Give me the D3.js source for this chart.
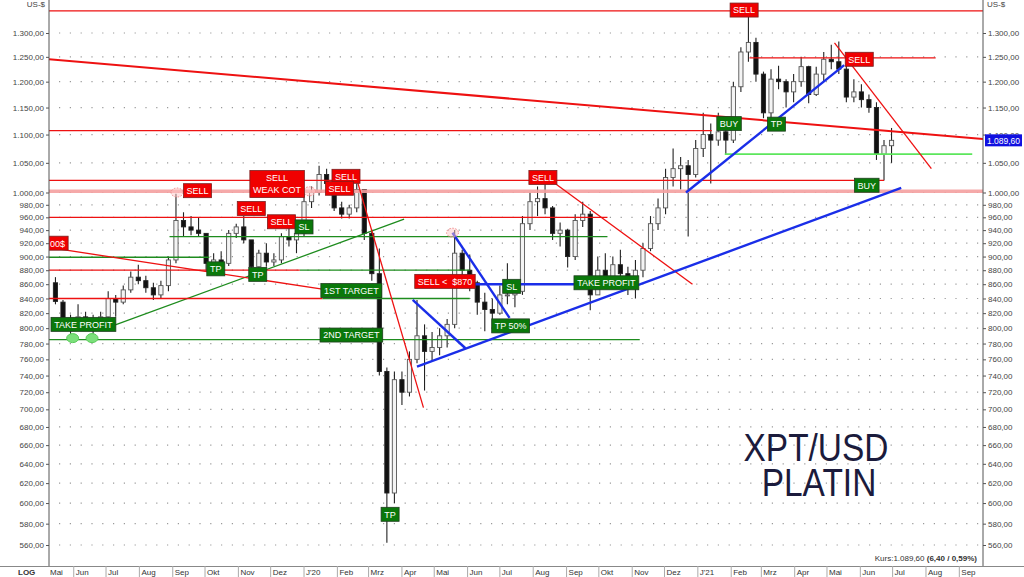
<!DOCTYPE html>
<html><head><meta charset="utf-8">
<script src="https://cdn.jsdelivr.net/npm/d3@7/dist/d3.min.js"></script>
<style>html,body{margin:0;padding:0;background:#fff}svg{display:block}</style>
</head><body>
<svg id="chart" width="1024" height="577" font-family="'Liberation Sans', Arial, sans-serif"></svg>
<script>
// ---------------- DATA ----------------
// weekly OHLC (Wednesday of each week), XPT/USD
const firstWeek = "2019-05-15";
const lastWeek = "2021-06-30";
const open  = [862,835,812,805,815,808,812,815,840,835,852,870,865,855,845,858,895,955,945,940,935,890,895,890,935,945,925,885,905,892,895,930,925,935,985,1000,1030,1015,975,965,975,1005,935,875,745,610,735,720,760,790,770,775,790,805,905,880,862,835,825,820,845,845,850,950,985,990,975,935,940,900,955,965,845,880,870,888,875,858,880,912,950,975,1025,1040,1045,1030,1075,1100,1090,1105,1090,1190,1260,1280,1215,1140,1205,1200,1180,1200,1230,1175,1215,1245,1240,1225,1170,1180,1165,1150,1065,1080];
const high  = [870,838,818,832,822,818,822,850,845,858,878,888,872,862,865,900,998,968,962,960,935,905,908,940,950,962,925,910,920,905,935,945,940,1000,1010,1045,1040,1020,985,980,1015,1005,940,912,750,745,745,770,838,805,795,800,812,940,910,903,865,848,840,858,890,866,962,1000,1010,1016,978,952,942,965,985,970,900,905,900,910,885,895,920,962,990,1040,1075,1060,1055,1090,1140,1120,1140,1120,1200,1270,1338,1290,1220,1225,1232,1205,1215,1250,1232,1230,1260,1275,1282,1235,1205,1195,1175,1160,1090,1112];
const low   = [832,805,788,800,803,789,804,812,815,832,848,860,848,838,840,850,890,930,932,930,878,882,885,886,928,920,875,880,885,886,890,915,905,930,975,995,1005,970,958,958,968,925,865,740,562,600,705,715,755,722,758,765,775,800,868,850,818,796,812,818,832,828,845,940,962,965,925,915,884,895,945,824,845,865,855,862,845,840,870,908,940,965,1010,1005,930,1025,1060,1015,1080,1065,1085,1180,1240,1200,1130,1125,1185,1150,1160,1190,1158,1172,1200,1225,1215,1160,1160,1150,1140,1055,1020,1050];
const close = [836,812,805,815,808,812,815,840,835,852,870,865,855,845,858,895,955,945,940,935,890,895,890,935,945,925,885,905,892,895,930,925,935,985,1000,1030,1015,975,965,975,1005,935,875,745,610,735,720,760,790,770,775,790,805,905,880,862,835,825,820,845,845,850,950,985,990,975,935,940,900,955,965,845,880,870,888,875,858,880,912,950,975,1025,1040,1045,1030,1075,1100,1090,1105,1090,1190,1260,1280,1215,1140,1205,1200,1180,1200,1230,1175,1215,1245,1240,1225,1170,1180,1165,1150,1065,1080,1089.6];
const lastPrice = 1089.6;
const change = "6,40 / 0,59%";

const yTicks = [1300,1250,1200,1150,1100,1050,1000,980,960,940,920,900,880,860,840,820,800,780,760,740,720,700,680,660,640,620,600,580,560];
const monthNames = ["J","Feb","Mrz","Apr","Mai","Jun","Jul","Aug","Sep","Okt","Nov","Dez"];

// annotation lines: [date1, price1, date2, price2]
const redLines = [
  ["2019-05-09",1348,"2021-09-23",1348],
  ["2019-05-09",1107,"2021-01-14",1107],
  ["2019-05-09",1020,"2021-06-23",1020],
  ["2019-05-09",960,"2020-10-09",960],
  ["2019-05-09",880,"2019-12-28",880],
  ["2019-05-09",840,"2020-01-18",840],
  ["2019-05-19",911,"2020-01-18",853],
  ["2020-02-20",1016,"2020-04-21",702],
  ["2020-08-22",1014,"2020-12-27",860],
  ["2021-05-08",1279,"2021-08-06",1040],
  ["2021-02-18",1248,"2021-08-10",1248]
];
const redSlope = [["2019-05-09",1245,"2021-09-23",1092]];
const pinkLines = [["2019-05-09",1002,"2021-09-23",1002]];
const greenLines = [
  ["2019-05-09",899,"2019-10-05",899],
  ["2019-08-29",930,"2020-10-09",930],
  ["2019-12-28",880,"2020-06-03",880],
  ["2020-01-18",840,"2020-06-03",840],
  ["2019-05-09",785,"2020-11-08",785],
  ["2019-07-09",804,"2020-04-03",957]
];
const limeLines = [["2021-01-26",1065,"2021-09-13",1065]];
const blueLines = [
  ["2020-04-15",751,"2021-07-09",1007.5],
  ["2020-04-11",838,"2020-05-30",774],
  ["2020-05-18",936,"2020-07-10",813.6],
  ["2020-06-03",860,"2020-10-02",860],
  ["2020-12-21",1000,"2021-05-17",1233]
];
// labels: [text, date, price, kind]
const labels = [
  ["00$","2019-05-17",920,"sell"],
  ["SELL","2021-02-13",1350,"sell"],
  ["SELL","2021-05-31",1245,"sell"],
  ["SELL","2019-09-24",1003,"sell"],
  ["SELL\nWEAK COT","2019-12-07",1014,"sell"],
  ["SELL","2019-11-13",974,"sell"],
  ["SELL","2019-12-11",953,"sell"],
  ["SELL","2020-02-09",1027,"sell"],
  ["SELL","2020-02-03",1007,"sell"],
  ["SELL","2020-08-10",1025,"sell"],
  ["SELL <  $870","2020-05-11",864,"sell"],
  ["TAKE PROFIT","2019-06-10",805,"buy"],
  ["TP","2019-10-11",882,"buy"],
  ["TP","2019-11-19",874,"buy"],
  ["SL","2020-01-01",945,"buy"],
  ["1ST TARGET","2020-02-14",851,"buy"],
  ["2ND TARGET","2020-02-14",791,"buy"],
  ["TP","2020-03-21",589,"buy"],
  ["SL","2020-07-12",857,"buy"],
  ["TP 50%","2020-07-11",803,"buy"],
  ["TAKE PROFIT","2020-10-08",862,"buy"],
  ["BUY","2021-01-30",1120,"buy"],
  ["TP","2021-03-15",1119,"buy"],
  ["BUY","2021-06-07",1012,"buy"]
];
// marker circles: [date, price, kind]
const marks = [
  ["2019-09-05",1000,"pink"],
  ["2020-01-06",1002,"pink"],
  ["2020-05-18",936,"pink"],
  ["2019-05-31",787,"green"],
  ["2019-06-18",787,"green"]
];

// ---------------- CHART ----------------
const parse = d3.timeParse("%Y-%m-%d");
const svg = d3.select("#chart");
const L = 49, R = 983, T = 0, B = 566;
const x = d3.scaleTime().domain([parse("2019-05-09"), parse("2021-09-23")]).range([L, R]);
const y = d3.scaleLog().domain([560, 1300]).range([545, 33]);
const loc = d3.formatLocale({decimal: ",", thousands: ".", grouping: [3], currency: ["", ""]});
const fmt = loc.format(",.2f");

svg.append("defs").append("clipPath").attr("id", "plot")
  .append("rect").attr("x", L).attr("y", T).attr("width", R - L).attr("height", B - T);

// dotted grid
svg.append("g").selectAll("line").data(yTicks).join("line")
  .attr("x1", L + 10).attr("x2", R).attr("y1", d => y(d)).attr("y2", d => y(d))
  .attr("stroke", "#9a9a9a").attr("stroke-width", 1.2).attr("stroke-dasharray", "1.2,9.6");

const plot = svg.append("g").attr("clip-path", "url(#plot)");

// candles
const weeks = d3.timeWednesday.range(parse(firstWeek), d3.timeDay.offset(parse(lastWeek), 1));
const n = Math.min(weeks.length, close.length);
const idx = d3.range(n);
const cg = plot.append("g");
cg.selectAll("line").data(idx).join("line")
  .attr("x1", i => x(weeks[i])).attr("x2", i => x(weeks[i]))
  .attr("y1", i => y(high[i])).attr("y2", i => y(low[i]))
  .attr("stroke", "#222").attr("stroke-width", 1.1);
const bw = 4.2;
cg.selectAll("rect").data(idx).join("rect")
  .attr("x", i => x(weeks[i]) - bw / 2).attr("width", bw)
  .attr("y", i => y(Math.max(open[i], close[i])))
  .attr("height", i => Math.max(1, Math.abs(y(open[i]) - y(close[i]))))
  .attr("fill", i => close[i] >= open[i] ? "#f4f4f4" : "#111")
  .attr("stroke", i => close[i] >= open[i] ? "#555" : "#222").attr("stroke-width", 0.9);

function drawLines(data, color, width, opacity) {
  plot.append("g").selectAll("line").data(data).join("line")
    .attr("x1", d => x(parse(d[0]))).attr("y1", d => y(d[1]))
    .attr("x2", d => x(parse(d[2]))).attr("y2", d => y(d[3]))
    .attr("stroke", color).attr("stroke-width", width).attr("stroke-opacity", opacity || 1);
}
drawLines(pinkLines, "#f4a0a0", 3.5, 0.9);
drawLines(greenLines, "#1e8c1e", 1.3);
drawLines(limeLines, "#5ce65c", 1.8);
drawLines(redLines, "#ee1111", 1.3);
drawLines(redSlope, "#ee1111", 2);
drawLines(blueLines, "#1a2ee8", 2.4);

// marker circles
plot.append("g").selectAll("ellipse").data(marks).join("ellipse")
  .attr("cx", d => x(parse(d[0]))).attr("cy", d => y(d[1]))
  .attr("rx", 6).attr("ry", 4.5)
  .attr("fill", d => d[2] === "green" ? "#7be07b" : "rgba(255,200,200,0.5)")
  .attr("stroke", d => d[2] === "green" ? "#5acb5a" : "#f08a8a")
  .attr("stroke-dasharray", d => d[2] === "green" ? null : "1.5,1.5")
  .attr("stroke-width", 1);

// labels
const lg = plot.append("g").attr("font-size", 9);
labels.forEach(([text, date, price, kind]) => {
  const g = lg.append("g").attr("transform", `translate(${x(parse(date))},${y(price)})`);
  const lines = text.split("\n");
  const rect = g.append("rect");
  const t = g.append("text").attr("fill", "#fff").attr("text-anchor", "middle").attr("xml:space", "preserve");
  const h = lines.length === 1 ? 14 : 27;
  lines.forEach((ln, k) => {
    t.append("tspan").attr("x", 0)
      .attr("y", lines.length === 1 ? 3.3 : (k === 0 ? -2.7 : 9.3)).text(ln);
  });
  const w = Math.max(18, t.node().getBBox().width + 6);
  rect.attr("x", -w / 2).attr("y", -h / 2).attr("width", w).attr("height", h)
    .attr("fill", kind === "sell" ? "#f00000" : "#0a780a")
    .attr("stroke", kind === "sell" ? "#7a2020" : "#1f3f1f").attr("stroke-width", 0.8);
});

// title
const tg = svg.append("g").attr("fill", "#1b1b3c").attr("font-size", 38).attr("text-anchor", "middle");
tg.append("text").attr("transform", "translate(816,461) scale(0.88,1)").text("XPT/USD");
tg.append("text").attr("transform", "translate(819,496) scale(0.88,1)").text("PLATIN");

// axes
const axL = d3.axisLeft(y).tickValues(yTicks).tickFormat(fmt).tickSize(3).tickPadding(2);
const gl = svg.append("g").attr("transform", `translate(${L},0)`).call(axL);
const axR = d3.axisRight(y).tickValues(yTicks).tickFormat(fmt).tickSize(3).tickPadding(2);
const gr = svg.append("g").attr("transform", `translate(${R},0)`).call(axR);
[gl, gr].forEach(g => {
  g.select(".domain").remove();
  g.selectAll("text").attr("font-size", 8).attr("fill", "#444").attr("font-family", "'Liberation Sans', Arial, sans-serif");
  g.selectAll("line").attr("stroke", "#555");
});
svg.append("line").attr("x1", L).attr("x2", L).attr("y1", 0).attr("y2", B + 1).attr("stroke", "#555");
svg.append("line").attr("x1", R).attr("x2", R).attr("y1", 0).attr("y2", B + 1).attr("stroke", "#555");
svg.append("line").attr("x1", 0).attr("x2", 1024).attr("y1", B + 0.5).attr("y2", B + 0.5).attr("stroke", "#888");
svg.append("text").attr("x", 45).attr("y", 7).attr("text-anchor", "end").attr("font-size", 8).attr("fill", "#444").text("US-$");
svg.append("text").attr("x", 987).attr("y", 7).attr("font-size", 8).attr("fill", "#444").text("US-$");

// x axis (months)
const months = d3.timeMonth.range(parse("2019-06-01"), parse("2021-09-02"));
const mlab = d => d.getMonth() === 0 ? "J'" + d3.timeFormat("%y")(d) : monthNames[d.getMonth()];
const xg = svg.append("g").attr("font-size", 8).attr("fill", "#333");
xg.selectAll("line").data(months).join("line")
  .attr("x1", d => x(d)).attr("x2", d => x(d)).attr("y1", B).attr("y2", 577).attr("stroke", "#aaa");
xg.selectAll("text").data(months).join("text")
  .attr("x", d => x(d) + 2).attr("y", 575).text(mlab);
xg.append("text").attr("x", L + 1).attr("y", 575).text("Mai");
svg.append("text").attr("x", 18).attr("y", 575).attr("font-size", 8).attr("font-weight", "bold").attr("fill", "#333").text("LOG");

// current price tag
const py = y(lastPrice);
svg.append("rect").attr("x", 985).attr("y", py - 6).attr("width", 37).attr("height", 12).attr("fill", "#1010e0");
svg.append("text").attr("x", 1003.5).attr("y", py + 3.5).attr("text-anchor", "middle").attr("font-size", 8.5)
  .attr("fill", "#fff").text(fmt(lastPrice));

// Kurs text
const kt = svg.append("text").attr("x", 977).attr("y", 561).attr("text-anchor", "end").attr("font-size", 8).attr("fill", "#333");
kt.append("tspan").text("Kurs:" + fmt(lastPrice) + " ");
kt.append("tspan").attr("font-weight", "bold").text("(" + change + ")");
</script>
</body></html>
